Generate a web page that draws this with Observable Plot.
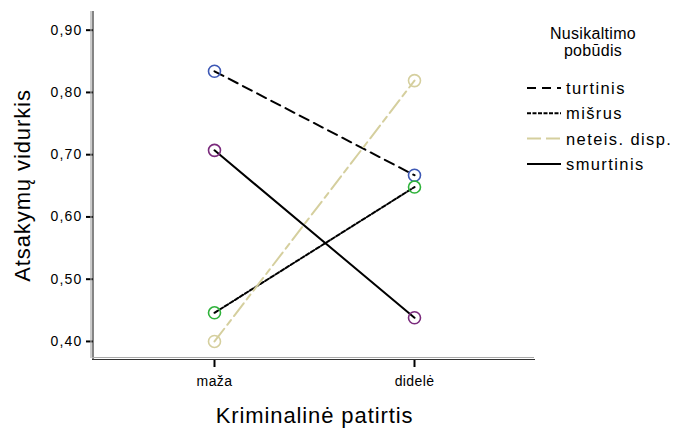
<!DOCTYPE html>
<html>
<head>
<meta charset="utf-8">
<script src="https://cdn.jsdelivr.net/npm/d3@7"></script>
<script src="https://cdn.jsdelivr.net/npm/@observablehq/plot@0.6"></script>
<style>
  html, body { margin: 0; padding: 0; background: #fff; }
  #chart { width: 679px; height: 435px; overflow: hidden; }
</style>
</head>
<body>
<div id="chart"></div>
<script>
const categories = ["maža", "didelė"];
const seriesNames = ["turtinis", "mišrus", "neteis. disp.", "smurtinis"];
const turtinis = [0.834, 0.667];
const misrus = [0.446, 0.648];
const neteisDisp = [0.400, 0.819];
const smurtinis = [0.707, 0.438];
const yTicks = [0.40, 0.50, 0.60, 0.70, 0.80, 0.90];
const legendTitle = ["Nusikaltimo", "pobūdis"];
const xLabel = "Kriminalinė patirtis";
const yLabel = "Atsakymų vidurkis";

const lineColors = ["#000000", "#000000", "#d5cf9e", "#000000"];
const dotColors = ["#3d58b5", "#2eb23a", "#d5cf9e", "#7a2a7c"];
const dashes = ["10,6", "4,2", "16,5,6,5", null];
const allValues = [turtinis, misrus, neteisDisp, smurtinis];

const rows = [];
seriesNames.forEach((s, i) => categories.forEach((c, j) => rows.push({series: s, cat: c, value: allValues[i][j], idx: i})));

const font = "'Liberation Sans', Arial, sans-serif";

const lineMarks = seriesNames.map((s, i) =>
  Plot.line(rows.filter(r => r.series === s), {
    x: "cat", y: "value", stroke: lineColors[i], strokeWidth: 2,
    strokeDasharray: dashes[i] || undefined
  })
);
const dotMarks = seriesNames.map((s, i) =>
  Plot.dot(rows.filter(r => r.series === s), {
    x: "cat", y: "value", r: 6, stroke: dotColors[i], strokeWidth: 1.6, fill: "none"
  })
);

const plot = Plot.plot({
  width: 679, height: 435,
  marginLeft: 93, marginRight: 144, marginTop: 11, marginBottom: 76,
  style: {fontFamily: font, fontSize: "14px", color: "#000", background: "#fff"},
  x: {type: "point", domain: categories, padding: 0.605, label: null},
  y: {domain: [0.371, 0.930], label: null},
  marks: [
    Plot.axisY({ticks: yTicks, tickSize: 7, tickPadding: 4, strokeWidth: 2,
      tickFormat: d => d3.format(".2f")(d).replace(".", ","), label: null}),
    Plot.axisX({tickSize: 8, tickPadding: 9, strokeWidth: 2, label: null}),
    Plot.text([yLabel], {frameAnchor: "left", rotate: -90, dx: -71, fontSize: 22, textAnchor: "middle", text: d => d}),
    Plot.text([xLabel], {frameAnchor: "bottom", dy: 63, fontSize: 22, textAnchor: "middle", text: d => d}),
    ...lineMarks,
    ...dotMarks
  ]
});
document.getElementById("chart").appendChild(plot);

const svg = d3.select(plot);
// tick label font sizing
svg.selectAll('g[aria-label*="tick label"]').attr("font-size", 14).style("font-size", "14px");
svg.selectAll('g[aria-label="y-axis tick label"] text').attr("letter-spacing", "1.2px");
svg.selectAll('g[aria-label="x-axis tick label"] text').attr("letter-spacing", "0.4px");
// axis titles spacing
svg.selectAll('g[aria-label="text"] text').attr("letter-spacing", "0.9px");

// Frame lines (double line style)
const yr = plot.scale("y").range; // [bottom, top]
const xr = [93, 679 - 144];
const g = svg.append("g");
g.append("line").attr("x1", 91).attr("x2", 91).attr("y1", yr[1]).attr("y2", yr[0] - 1).attr("stroke", "#aaa").attr("stroke-width", 1.2);
g.append("line").attr("x1", 93).attr("x2", 93).attr("y1", yr[1]).attr("y2", yr[0] + 1).attr("stroke", "#333").attr("stroke-width", 1.2);
g.append("line").attr("x1", 92).attr("x2", xr[1] - 1).attr("y1", yr[0] - 1.5).attr("y2", yr[0] - 1.5).attr("stroke", "#aaa").attr("stroke-width", 1.2);
g.append("line").attr("x1", 92).attr("x2", xr[1]).attr("y1", yr[0] + 0.5).attr("y2", yr[0] + 0.5).attr("stroke", "#333").attr("stroke-width", 1.2);

// Legend
const lg = svg.append("g").attr("font-family", font).attr("fill", "#000");
legendTitle.forEach((t, i) => {
  lg.append("text").attr("x", 593).attr("y", 39 + i * 17).attr("text-anchor", "middle")
    .attr("font-size", 16).attr("letter-spacing", "0.3px").text(t);
});
const legendDash = ["9,6", "4,1.5", "14,5", null];
seriesNames.forEach((s, i) => {
  const y = 88 + i * 25.3;
  lg.append("line").attr("x1", 527).attr("x2", 561).attr("y1", y).attr("y2", y)
    .attr("stroke", lineColors[i]).attr("stroke-width", 2)
    .attr("stroke-dasharray", legendDash[i]);
  lg.append("text").attr("x", 566).attr("y", y + 6).attr("font-size", 16.5)
    .attr("text-anchor", "start")
    .attr("letter-spacing", "1.4px").text(s);
});
</script>
</body>
</html>
